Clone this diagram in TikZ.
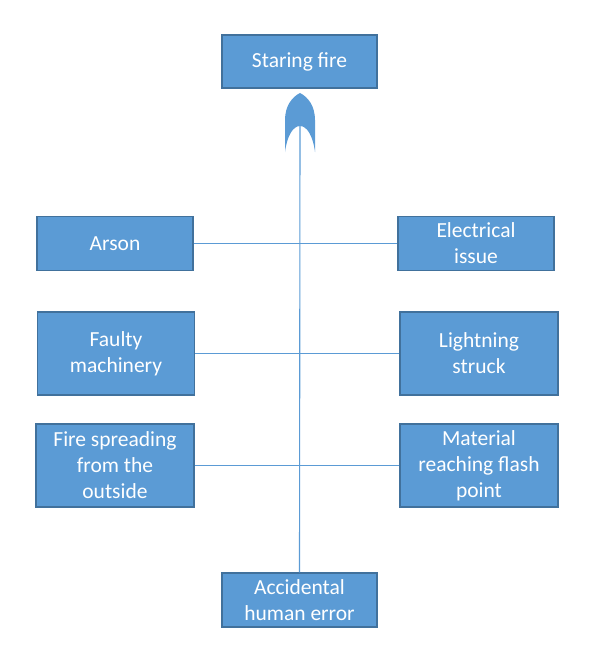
\documentclass[tikz,border=0pt]{standalone}
\usepackage{fontspec}
\setmainfont{Carlito}
\definecolor{boxfill}{HTML}{5B9BD5}
\definecolor{boxline}{HTML}{41719C}
\begin{document}
\begin{tikzpicture}[x=1bp,y=-1bp,
  box/.style={draw=boxline,line width=1.2bp,fill=boxfill,text=white,align=center,
    inner sep=0pt,font=\fontsize{21.5bp}{26bp}\selectfont},
  conn/.style={draw=boxfill,line width=1.1bp}]
\useasboundingbox (0,0) rectangle (603,659);
\node[box,minimum width=155bp,minimum height=53bp] (top) at (299.5,61.5) {Staring fire};
\node[box,minimum width=156bp,minimum height=54bp] (arson) at (115,243.5) {Arson};
\node[box,minimum width=156bp,minimum height=54bp] (elec) at (476,243.5) {Electrical\\issue};
\node[box,minimum width=157bp,minimum height=83bp] (faulty) at (116,353.5) {Faulty\\machinery};
\node[box,minimum width=158bp,minimum height=83bp] (light) at (479,353.5) {Lightning\\struck};
\node[box,minimum width=158bp,minimum height=83bp] (spread) at (115,465.5) {Fire spreading\\from the\\outside};
\node[box,minimum width=158bp,minimum height=83bp] (mat) at (479,465.5) {Material\\reaching flash\\point};
\node[box,minimum width=155bp,minimum height=54bp] (acc) at (299.5,600) {Accidental\\human error};
% OR gate
\coordinate (gtip) at (300,93);
\coordinate (gin) at (300,126);
\fill[boxfill] (gtip) .. controls (308,97) and (315,106) .. (315,120) -- (315,152)
  .. controls (313,136) and (307,126) .. (gin)
  .. controls (293,126) and (287,136) .. (285,152) -- (285,120)
  .. controls (285,106) and (292,97) .. (gtip) -- cycle;
\draw[conn] (gin) -- (acc.north);
\draw[conn] (arson.east) -- (elec.west);
\draw[conn] (faulty.east) -- (light.west);
\draw[conn] (spread.east) -- (mat.west);
\end{tikzpicture}
\end{document}
